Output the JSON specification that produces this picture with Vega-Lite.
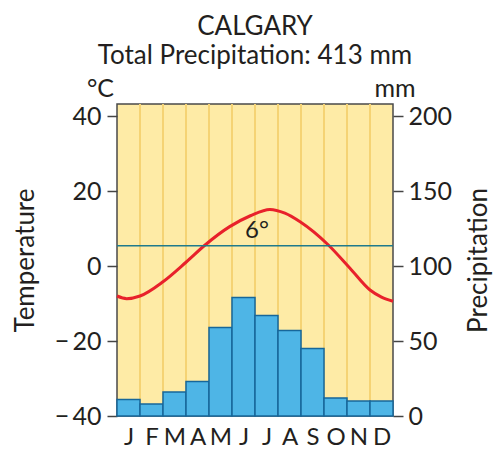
{
  "$schema": "https://vega.github.io/schema/vega-lite/v6.json",
  "width": 276,
  "height": 312,
  "autosize": {"type": "none"},
  "padding": {"left": 117, "top": 104, "right": 102, "bottom": 33},
  "background": "white",
  "title": {
    "text": ["CALGARY", "Total Precipitation: 413 mm"],
    "fontSize": 26,
    "fontWeight": "normal",
    "font": "Lato",
    "color": "#231F20",
    "lineHeight": 29,
    "frame": "group",
    "anchor": "middle",
    "offset": 8
  },
  "config": {
    "font": "Lato",
    "view": {"fill": "#FEEBA6", "stroke": "#4A4A4A", "strokeWidth": 1.5},
    "axis": {"labelColor": "#231F20", "titleColor": "#231F20", "labelFont": "Lato", "titleFont": "Lato"}
  },
  "datasets": {
    "months": [
      {"m": "J", "s": 0, "e": 1, "p": 11},
      {"m": "F", "s": 1, "e": 2, "p": 8},
      {"m": "M", "s": 2, "e": 3, "p": 16},
      {"m": "A", "s": 3, "e": 4, "p": 23},
      {"m": "M", "s": 4, "e": 5, "p": 59},
      {"m": "J", "s": 5, "e": 6, "p": 79},
      {"m": "J", "s": 6, "e": 7, "p": 67},
      {"m": "A", "s": 7, "e": 8, "p": 57},
      {"m": "S", "s": 8, "e": 9, "p": 45},
      {"m": "O", "s": 9, "e": 10, "p": 12},
      {"m": "N", "s": 10, "e": 11, "p": 10},
      {"m": "D", "s": 11, "e": 12, "p": 10}
    ],
    "curve": [
      {"x": 0, "t": -8.0},
      {"x": 0.42, "t": -8.7},
      {"x": 1.0, "t": -8.0},
      {"x": 2.0, "t": -4.2},
      {"x": 3.0, "t": 1.0},
      {"x": 3.83, "t": 5.6},
      {"x": 4.9, "t": 10.5},
      {"x": 5.8, "t": 13.4},
      {"x": 6.65, "t": 15.1},
      {"x": 7.3, "t": 14.1},
      {"x": 7.96, "t": 11.8},
      {"x": 9.19, "t": 5.6},
      {"x": 10.13, "t": -0.6},
      {"x": 11.0, "t": -6.4},
      {"x": 11.5, "t": -8.3},
      {"x": 12, "t": -9.4}
    ],
    "mean": [{"t": 5.4, "label": "6°"}]
  },
  "layer": [
    {
      "data": {"name": "months"},
      "layer": [
        {
          "transform": [{"filter": "datum.e < 12"}],
          "mark": {"type": "rule", "color": "#F5D374", "strokeWidth": 2},
          "encoding": {
            "x": {"field": "e", "type": "quantitative", "scale": {"domain": [0, 12], "nice": false, "zero": false}, "title": null}
          }
        },
        {
          "mark": {"type": "rect", "fill": "#4EB5E6", "stroke": "#17679A", "strokeWidth": 1.5},
          "encoding": {
            "x": {
              "field": "s", "type": "quantitative",
              "scale": {"domain": [0, 12], "nice": false, "zero": false},
              "title": null,
              "axis": {
                "values": [0.5, 1.5, 2.5, 3.5, 4.5, 5.5, 6.5, 7.5, 8.5, 9.5, 10.5, 11.5],
                "tickCount": 24,
                "labelExpr": "['J','F','M','A','M','J','J','A','S','O','N','D'][floor(datum.value)]",
                "labelOverlap": false, "labelFlush": false, "labelBound": false,
                "ticks": false, "domain": false, "grid": false,
                "labelFontSize": 24, "labelPadding": 9
              }
            },
            "x2": {"field": "e"},
            "y": {
              "field": "p", "type": "quantitative",
              "scale": {"domain": [0, 208], "nice": false},
              "axis": {
                "orient": "right",
                "values": [0, 50, 100, 150, 200],
                "title": "Precipitation",
                "titleFontSize": 26, "titleFontWeight": "normal",
                "titleAngle": 270, "titleBaseline": "top", "titlePadding": 14,
                "labelFontSize": 25, "labelPadding": 5,
                "tickSize": 10, "tickWidth": 1.5, "tickColor": "#444444",
                "domain": false, "grid": false
              }
            },
            "y2": {"datum": 0}
          }
        }
      ]
    },
    {
      "layer": [
        {
          "data": {"name": "curve"},
          "mark": {"type": "line", "color": "#E8212B", "strokeWidth": 3, "interpolate": "monotone"},
          "encoding": {
            "x": {"field": "x", "type": "quantitative", "title": null},
            "y": {
              "field": "t", "type": "quantitative",
              "scale": {"domain": [-40, 43.2], "nice": false, "zero": false},
              "axis": {
                "orient": "left",
                "values": [-40, -20, 0, 20, 40],
                "labelExpr": "datum.value < 0 ? '\u2212\u2009' + abs(datum.value) : datum.label",
                "title": "Temperature",
                "titleFontSize": 26, "titleFontWeight": "normal",
                "titlePadding": 16,
                "labelFontSize": 25, "labelPadding": 6,
                "tickSize": 10, "tickWidth": 1.5, "tickColor": "#444444",
                "domain": false, "grid": false
              }
            }
          }
        },
        {
          "data": {"name": "mean"},
          "mark": {"type": "rule", "color": "#1F7A8C", "strokeWidth": 1.5},
          "encoding": {
            "y": {"field": "t", "type": "quantitative"}
          }
        },
        {
          "data": {"name": "mean"},
          "mark": {"type": "text", "fontSize": 24, "color": "#231F20", "align": "center", "baseline": "alphabetic", "dy": -8, "dx": 2},
          "encoding": {
            "x": {"datum": 6},
            "y": {"field": "t", "type": "quantitative"},
            "text": {"field": "label"}
          }
        },
        {
          "data": {"values": [{"u": "°C"}]},
          "mark": {"type": "text", "fontSize": 25, "color": "#231F20", "align": "right", "baseline": "alphabetic", "dy": -7, "dx": -3},
          "encoding": {
            "x": {"datum": 0},
            "y": {"datum": 43.2},
            "text": {"field": "u"}
          }
        },
        {
          "data": {"values": [{"u": "mm"}]},
          "mark": {"type": "text", "fontSize": 25, "color": "#231F20", "align": "center", "baseline": "alphabetic", "dy": -7, "dx": 2},
          "encoding": {
            "x": {"datum": 12},
            "y": {"datum": 43.2},
            "text": {"field": "u"}
          }
        }
      ]
    }
  ],
  "resolve": {"scale": {"y": "independent"}}
}
